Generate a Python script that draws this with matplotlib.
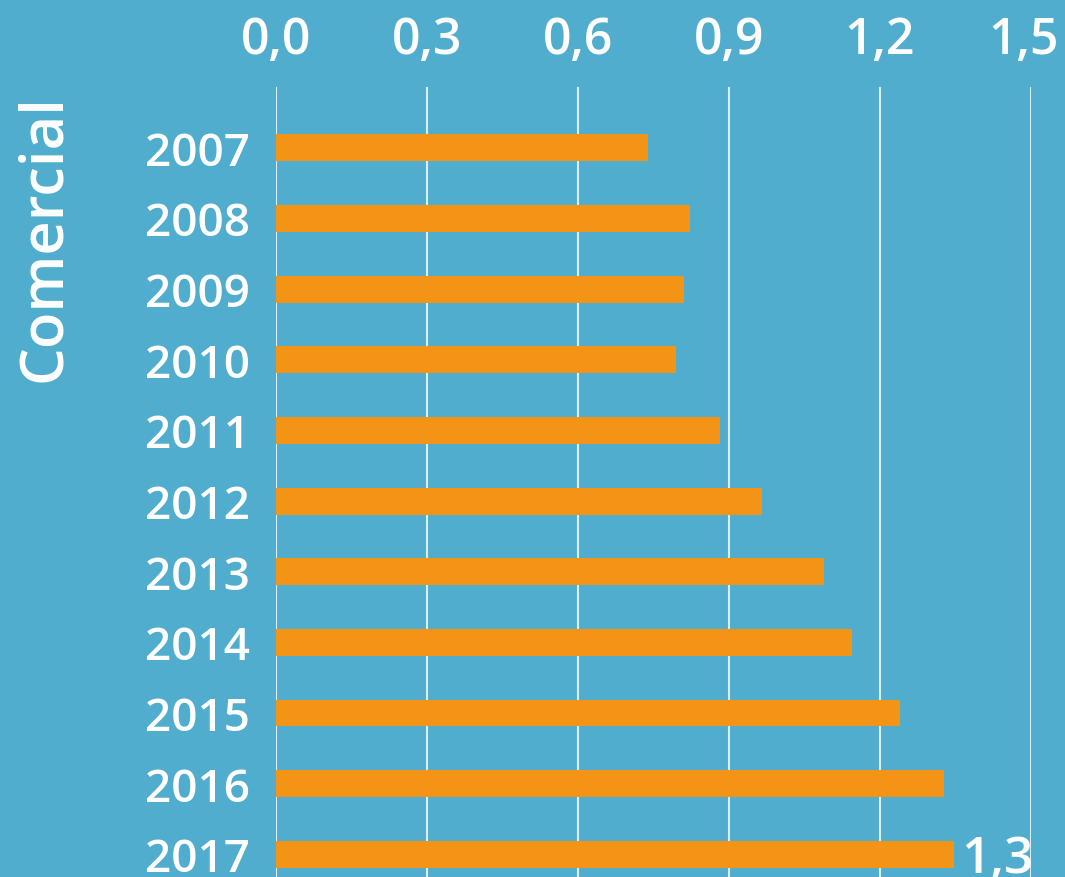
import matplotlib
matplotlib.use('Agg')
import matplotlib.pyplot as plt
import matplotlib.transforms as mtransforms

years = ['2007', '2008', '2009', '2010', '2011', '2012', '2013', '2014', '2015', '2016', '2017']
values = [0.74, 0.823, 0.811, 0.795, 0.882, 0.966, 1.089, 1.144, 1.240, 1.327, 1.347]
ticks = [0.0, 0.3, 0.6, 0.9, 1.2, 1.5]
tick_labels = ['0,0', '0,3', '0,6', '0,9', '1,2', '1,5']
last_label = '1,3'
title = 'Comercial'

bg = '#50adcd'
orange = '#f39416'
plt.rcParams['font.family'] = ['Open Sans', 'DejaVu Sans']

fig = plt.figure(figsize=(10.65, 8.78), dpi=100, facecolor=bg)
ax = fig.add_axes([276/1065, 0, (1031-276)/1065, (878-88)/878])
ax.set_facecolor(bg)

pos = list(range(len(years)))
ax.barh(pos, values, height=0.38, color=orange, zorder=3)
ax.set_xlim(0, 1.5)
ax.set_ylim(10.32, -0.86)

ax.set_xticks(ticks)
ax.set_xticklabels(tick_labels)
ax.xaxis.tick_top()
ax.tick_params(axis='x', length=0, pad=16, labelsize=36, labelcolor='white')
for lab in ax.get_xticklabels():
    lab.set_fontweight('semibold')
# keep the last label inside the picture
last = ax.get_xticklabels()[-1]
last.set_horizontalalignment('right')
last.set_transform(last.get_transform() + mtransforms.ScaledTranslation(0.28, 0, fig.dpi_scale_trans))

ax.set_yticks(pos)
ax.set_yticklabels(years)
ax.tick_params(axis='y', length=0, pad=94, labelsize=33, labelcolor='white')
for lab in ax.get_yticklabels():
    lab.set_horizontalalignment('left')
    lab.set_fontweight('semibold')

ax.grid(axis='x', color='#d9eef5', linewidth=1.5, zorder=1)
ax.grid(axis='y', visible=False)
for s in ax.spines.values():
    s.set_visible(False)

ax.annotate(last_label, (values[-1], pos[-1]), xytext=(5, -3), textcoords='offset points',
            ha='left', va='center', color='white', fontsize=37, fontweight='semibold')

fig.text(45/1065, 1 - 238/878, title, rotation=90, ha='center', va='center',
         color='white', fontsize=43, fontweight='semibold')

fig.savefig('out.png', dpi=100, facecolor=bg)
